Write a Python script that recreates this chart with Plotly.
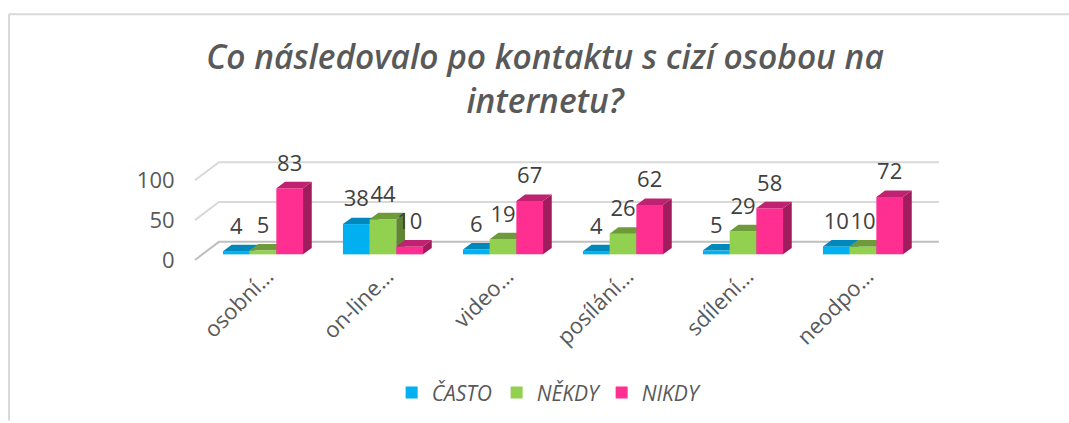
import plotly.graph_objects as go

categories = ["osobní…", "on-line…", "video…", "posílání…", "sdílení…", "neodpo…"]
series_names = ["ČASTO", "NĚKDY", "NIKDY"]
casto = [4, 38, 6, 4, 5, 10]
nekdy = [5, 44, 19, 26, 29, 10]
nikdy = [83, 10, 67, 62, 58, 72]
y_ticks = [0, 50, 100]
title_text = "Co následovalo po kontaktu s cizí osobou na<br>internetu?"

front = ["#00B0F0", "#92D050", "#FF2F92"]
top = ["#0088BB", "#6E9A3A", "#BE2270"]
side = ["#007FAE", "#5F8532", "#A01C5C"]
FONT = "Open Sans"

W, H = 1069, 423
PL, PR, PT, PB = 185, 950, 150, 263  # plot area inside the figure

# chart geometry in axis units (1 x unit = one category, y unit = value)
bar_w = 0.2225
dx, dy = 0.0725, 8.1
wall_x0, wall_x1, wall_x2 = -0.567, -0.367, 5.633
wall_front, wall_back = -7.0, 15.7
xr = [-0.65, 5.725]
yr = [-9.6, 131.0]

fig = go.Figure()

for t in y_ticks:
    fig.add_trace(go.Scatter(
        x=[wall_x0, wall_x1, wall_x2],
        y=[t + wall_front, t + wall_back, t + wall_back],
        mode="lines", line=dict(color="#BFBFBF" if t == 0 else "#D9D9D9", width=2),
        showlegend=False, hoverinfo="skip", xaxis="x", yaxis="y"))

allv = [casto, nekdy, nikdy]
for s, vals in enumerate(allv):
    xa, ya = f"x{s+2}", f"y{s+2}"
    off = (s - 1.5) * bar_w
    fig.add_trace(go.Bar(
        x=list(range(len(categories))), y=vals, name=series_names[s],
        width=bar_w, offset=off, marker=dict(color=front[s], line=dict(width=0)),
        xaxis=xa, yaxis=ya, hoverinfo="x+y"))
    sx, sy, tx, ty = [], [], [], []
    for i, v in enumerate(vals):
        a, b = i + off, i + off + bar_w
        sx += [b, b + dx, b + dx, b, None]
        sy += [0, dy, v + dy, v, None]
        tx += [a, a + dx, b + dx, b, None]
        ty += [v, v + dy, v + dy, v, None]
    fig.add_trace(go.Scatter(x=sx, y=sy, fill="toself", mode="none", fillcolor=side[s],
                             showlegend=False, hoverinfo="skip", xaxis=xa, yaxis=ya))
    fig.add_trace(go.Scatter(x=tx, y=ty, fill="toself", mode="none", fillcolor=top[s],
                             showlegend=False, hoverinfo="skip", xaxis=xa, yaxis=ya))

for s, vals in enumerate(allv):
    off = (s - 1) * bar_w
    fig.add_trace(go.Scatter(
        x=[i + off for i in range(len(vals))], y=[v + 29 for v in vals],
        text=[str(v) for v in vals], mode="text", textposition="middle center",
        textfont=dict(family=FONT, size=22, color="#404040"),
        showlegend=False, hoverinfo="skip", xaxis="x4", yaxis="y4", cliponaxis=False))

layout = dict(
    width=W, height=H, autosize=False,
    margin=dict(l=PL, r=W - PR, t=PT, b=H - PB, pad=0),
    paper_bgcolor="white", plot_bgcolor="rgba(0,0,0,0)",
    barmode="overlay",
    font=dict(family=FONT, color="#595959"),
    title=dict(text=title_text, x=545.0 / W, xanchor="center", y=0.836, yanchor="middle",
               font=dict(family=FONT, size=33.5, color="#595959", weight=600, style="italic")),
    xaxis=dict(range=xr, tickmode="array", tickvals=[i + 0.033 for i in range(len(categories))],
               ticktext=categories, tickangle=-45, showgrid=False, zeroline=False,
               showline=False, ticks="", ticklabelstandoff=-4,
               tickfont=dict(family=FONT, size=22, color="#595959"), automargin=False),
    yaxis=dict(range=yr, tickmode="array", tickvals=[t - 7.5 for t in y_ticks],
               ticktext=[str(t) for t in y_ticks], showgrid=False, zeroline=False,
               showline=False, ticks="outside", ticklen=5, tickcolor="rgba(0,0,0,0)",
               tickfont=dict(family=FONT, size=22, color="#595959"), automargin=False),
    legend=dict(orientation="h", x=0.476, xanchor="center", y=-1.15, yanchor="middle",
                entrywidth=60, entrywidthmode="pixels",
                font=dict(family=FONT, size=21, color="#595959", style="italic"),
                bgcolor="rgba(0,0,0,0)"),
)
for s in range(3):
    layout[f"xaxis{s+2}"] = dict(range=xr, overlaying="x", visible=False)
    layout[f"yaxis{s+2}"] = dict(range=yr, overlaying="y", visible=False)
fig.update_layout(**layout)

# frame: figure pixel positions converted to paper fractions
pw, ph = PR - PL, PB - PT
fx, fy = 9, 13
fig.add_shape(type="line", xref="paper", yref="paper",
              x0=(fx - PL) / pw, x1=(W - PL) / pw, y0=(PB - fy) / ph, y1=(PB - fy) / ph,
              line=dict(color="#D9D9D9", width=2))
fig.add_shape(type="line", xref="paper", yref="paper",
              x0=(fx - PL) / pw, x1=(fx - PL) / pw, y0=(PB - fy) / ph, y1=(PB - H) / ph,
              line=dict(color="#D9D9D9", width=2))

# remove the default page margin so the figure fills the window exactly
fig.write_html("out.html", config={"displayModeBar": False},
               post_script="document.body.style.margin='0';document.body.style.overflow='hidden';")
